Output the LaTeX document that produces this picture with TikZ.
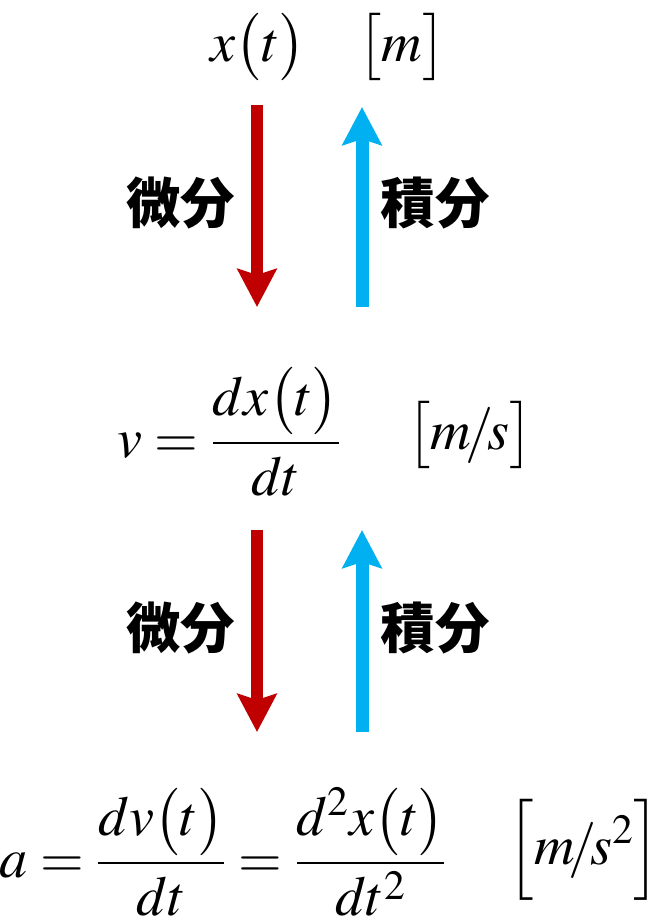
\documentclass[tikz,border=0pt]{standalone}
\usepackage{amsmath}
\usepackage{mathptmx}
\usepackage[no-math]{fontspec}
\newfontfamily\cjk{Noto Sans CJK JP}
\usepackage{xcolor}
\usetikzlibrary{arrows.meta}
\definecolor{diffred}{HTML}{C00000}
\definecolor{intblue}{HTML}{00B0F0}

\begin{document}
\begin{tikzpicture}[
  x=0.02cm, y=-0.02cm,
  every node/.style={inner sep=0pt,font=\fontsize{32}{38}\selectfont},
  lbl/.style={font=\cjk\bfseries\fontsize{31}{34}\selectfont},
  diffarrow/.style={->,line width=0.26cm,draw=diffred},
  intarrow/.style={->,line width=0.26cm,draw=intblue},
]
\tikzset{>={Stealth[length=0.76cm,width=0.78cm,inset=0.12cm]}}
\useasboundingbox (0,0) rectangle (654,921);
\node(pos) at(258,47){$x\bigl(t\bigr)$}; \node(unitx) at(402,47){$\bigl[m\bigr]$};
\node(vel) at(229,432){$v=\dfrac{dx\bigl(t\bigr)}{dt}$}; \node(unitv) at(470,435){$\bigl[m\!/\!s\bigr]$};
\node(acc) at(223,852){$a=\dfrac{dv\bigl(t\bigr)}{dt}=\dfrac{d^2x\bigl(t\bigr)}{dt^2}$};
\node(unita) at(584,850){$\Bigl[m\!/\!s^2\Bigr]$};
\coordinate(d1s) at(257,105); \coordinate(d1e) at(257,307);
\coordinate(i1s) at(362,307); \coordinate(i1e) at(362,107);
\coordinate(d2s) at(257,530); \coordinate(d2e) at(257,732);
\coordinate(i2s) at(362,732); \coordinate(i2e) at(362,530);
\draw[diffarrow](d1s)--(d1e); \draw[intarrow](i1s)--(i1e);
\draw[diffarrow](d2s)--(d2e); \draw[intarrow](i2s)--(i2e);
\node[lbl](diff1) at(181,203){微分}; \node[lbl](int1) at(435,203){積分};
\node[lbl](diff2) at(181,628){微分}; \node[lbl](int2) at(435,628){積分};
\end{tikzpicture}
\end{document}
